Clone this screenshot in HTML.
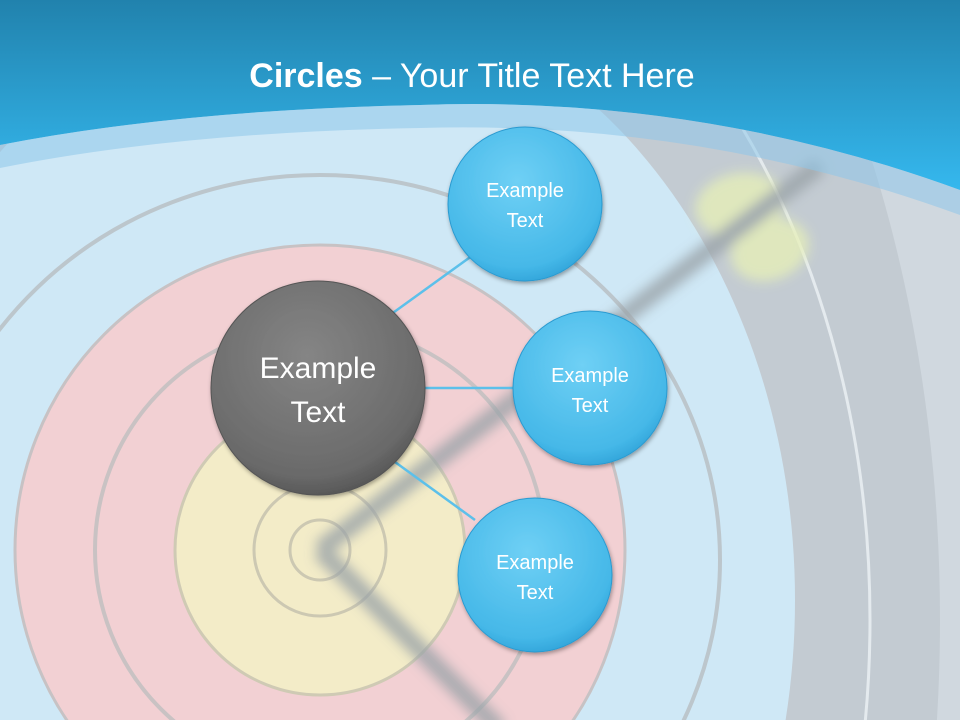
<!DOCTYPE html>
<html><head><meta charset="utf-8"><style>
html,body{margin:0;padding:0;overflow:hidden}
body{width:960px;height:720px;overflow:hidden;font-family:"Liberation Sans",sans-serif}
svg{display:block}
</style></head><body>
<svg width="960" height="720" viewBox="0 0 960 720" xmlns="http://www.w3.org/2000/svg">
<defs>
<linearGradient id="hd" x1="0" y1="0" x2="0" y2="1">
<stop offset="0" stop-color="#2182ad"/><stop offset="1" stop-color="#35b8ee"/></linearGradient>
<radialGradient id="gb" cx="0.45" cy="0.35" r="0.7">
<stop offset="0" stop-color="#6fd0f5"/><stop offset="0.8" stop-color="#45b8e8"/><stop offset="1" stop-color="#2c9fd6"/></radialGradient>
<radialGradient id="gg" cx="0.45" cy="0.35" r="0.7">
<stop offset="0" stop-color="#858585"/><stop offset="0.8" stop-color="#6a6a6a"/><stop offset="1" stop-color="#4f4f4f"/></radialGradient>
<filter id="bl"><feGaussianBlur stdDeviation="6"/></filter>
<filter id="sh"><feDropShadow dx="1" dy="2" stdDeviation="2" flood-opacity="0.35"/></filter>
</defs>
<rect width="960" height="720" fill="#d0d8df"/>
<ellipse cx="320" cy="620" rx="620" ry="1008" fill="#c3cbd2"/>
<ellipse cx="320" cy="620" rx="550" ry="768" fill="none" stroke="#e4eaee" stroke-width="3"/>
<ellipse cx="320" cy="600" rx="475" ry="606" fill="#cfe8f6"/>
<ellipse cx="320" cy="560" rx="400" ry="385" fill="none" stroke="#bcc6cc" stroke-width="4"/>
<circle cx="320" cy="550" r="305" fill="#f2d0d3"/>
<circle cx="320" cy="550" r="305" fill="none" stroke="#c7c2c4" stroke-width="3"/>
<circle cx="320" cy="550" r="225" fill="none" stroke="#c9c2c3" stroke-width="4"/>
<circle cx="320" cy="550" r="145" fill="#f3ecc8"/>
<circle cx="320" cy="550" r="145" fill="none" stroke="#cfcab4" stroke-width="3"/>
<circle cx="320" cy="550" r="66" fill="none" stroke="#ccc8b2" stroke-width="3"/>
<circle cx="320" cy="550" r="30" fill="none" stroke="#ccc8b2" stroke-width="3"/>
<g filter="url(#bl)" opacity="0.8">
<ellipse cx="740" cy="205" rx="45" ry="32" fill="#e6efb8" transform="rotate(-10 740 205)"/>
<ellipse cx="770" cy="250" rx="40" ry="30" fill="#e6efb8" transform="rotate(-20 770 250)"/>
<line x1="320" y1="550" x2="820" y2="165" stroke="#9aa3a8" stroke-width="18"/>
<line x1="320" y1="550" x2="500" y2="730" stroke="#9aa3a8" stroke-width="18"/>
</g>
<path d="M0 0H960V190Q700 95 420 105Q180 110 0 145Z" fill="url(#hd)"/>
<path d="M0 145Q180 110 420 105Q700 95 960 190V215Q700 120 420 128Q180 132 0 168Z" fill="#8ec7ea" opacity="0.55"/>
<text x="472" y="87" text-anchor="middle" font-size="34" fill="#fff"><tspan font-weight="bold">Circles</tspan> – Your Title Text Here</text>
<g stroke="#5cc0ea" stroke-width="2.5">
<line x1="390" y1="315" x2="480" y2="250"/>
<line x1="420" y1="388" x2="515" y2="388"/>
<line x1="395" y1="462" x2="475" y2="520"/>
</g>
<g filter="url(#sh)">
<circle cx="318" cy="388" r="107" fill="url(#gg)" stroke="#555" stroke-width="1"/>
<circle cx="525" cy="204" r="77" fill="url(#gb)" stroke="#2a9ad0" stroke-width="1"/>
<circle cx="590" cy="388" r="77" fill="url(#gb)" stroke="#2a9ad0" stroke-width="1"/>
<circle cx="535" cy="575" r="77" fill="url(#gb)" stroke="#2a9ad0" stroke-width="1"/>
</g>
<g fill="#fff" text-anchor="middle">
<text x="318" y="378" font-size="30">Example</text>
<text x="318" y="422" font-size="30">Text</text>
<text x="525" y="197" font-size="20">Example</text>
<text x="525" y="227" font-size="20">Text</text>
<text x="590" y="382" font-size="20">Example</text>
<text x="590" y="412" font-size="20">Text</text>
<text x="535" y="569" font-size="20">Example</text>
<text x="535" y="599" font-size="20">Text</text>
</g>
</svg>
</body></html>
